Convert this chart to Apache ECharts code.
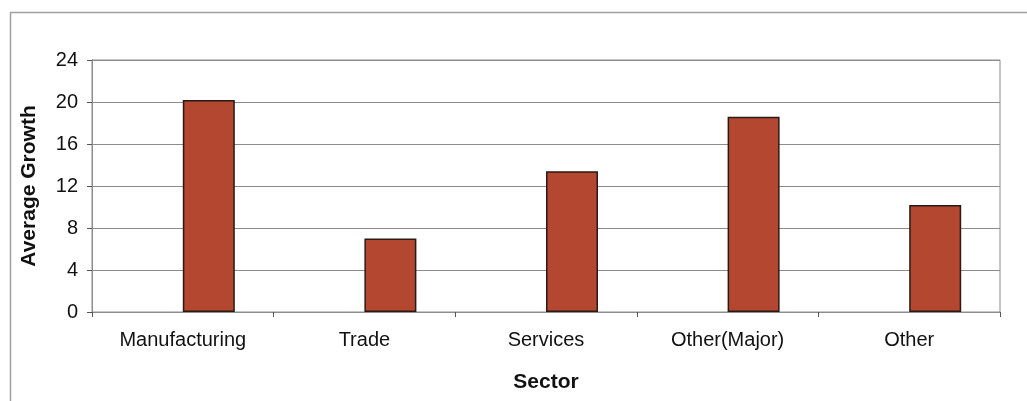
<!DOCTYPE html>
<html>
<head>
<meta charset="utf-8">
<script src="https://cdn.jsdelivr.net/npm/echarts@6/dist/echarts.min.js"></script>
<style>
  html, body { margin: 0; padding: 0; background: #fff; }
  #chart { width: 1027px; height: 401px; }
</style>
</head>
<body>
<div id="chart"></div>
<script>
// Average growth by sector
const sectors = ['Manufacturing', 'Trade', 'Services', 'Other(Major)', 'Other'];
const averageGrowth = [20.2, 7.0, 13.4, 18.6, 10.2];
// first slot of each cluster is left empty
const emptySlot = [null, null, null, null, null];
const yTicks = { min: 0, max: 24, interval: 4 };

const chart = echarts.init(document.getElementById('chart'), null, { renderer: 'canvas' });
const font = 'Arial, "Liberation Sans", sans-serif';

chart.setOption({
  animation: false,
  backgroundColor: '#ffffff',
  graphic: [
    { type: 'line', shape: { x1: 10, y1: 12.5, x2: 1027, y2: 12.5 }, style: { stroke: '#a0a0a0', lineWidth: 1.5 } },
    { type: 'line', shape: { x1: 10.5, y1: 12, x2: 10.5, y2: 401 }, style: { stroke: '#a0a0a0', lineWidth: 1.5 } }
  ],
  grid: {
    left: 92, right: 27, top: 60, bottom: 89,
    show: true, borderColor: '#8c8c8c', borderWidth: 1
  },
  xAxis: {
    type: 'category',
    data: sectors,
    name: 'Sector',
    nameLocation: 'middle',
    nameGap: 60,
    nameTextStyle: { fontFamily: font, fontSize: 21, fontWeight: 'bold', color: '#111' },
    axisLine: { show: true, lineStyle: { color: '#8c8c8c', width: 1 } },
    axisTick: { show: true, length: 5, lineStyle: { color: '#555' } },
    axisLabel: { margin: 18, fontFamily: font, fontSize: 20, color: '#111' },
    splitLine: { show: false }
  },
  yAxis: {
    type: 'value',
    min: yTicks.min, max: yTicks.max, interval: yTicks.interval,
    name: 'Average Growth',
    nameLocation: 'middle',
    nameGap: 52,
    nameTextStyle: { fontFamily: font, fontSize: 21, fontWeight: 'bold', color: '#111' },
    axisLine: { show: true, lineStyle: { color: '#8c8c8c', width: 1 } },
    axisTick: { show: true, length: 5, lineStyle: { color: '#555' } },
    axisLabel: { margin: 14, fontFamily: font, fontSize: 20, color: '#111' },
    splitLine: { show: true, lineStyle: { color: '#8c8c8c', width: 1 } }
  },
  series: [
    {
      type: 'bar',
      data: emptySlot,
      barWidth: 52,
      barGap: '0%'
    },
    {
      type: 'bar',
      data: averageGrowth,
      barWidth: 52,
      barGap: '0%',
      itemStyle: { color: '#b3472f', borderColor: '#2a1a14', borderWidth: 1.5 }
    }
  ]
});
</script>
</body>
</html>
